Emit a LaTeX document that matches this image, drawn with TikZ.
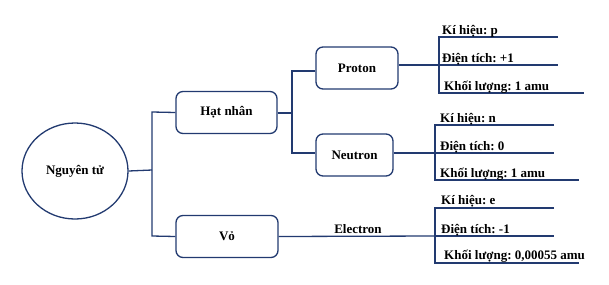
\documentclass[tikz,border=0pt]{standalone}
\usepackage{fontspec}
\setmainfont{Liberation Serif}
\usetikzlibrary{shapes.geometric}
\definecolor{navy}{RGB}{34,58,112}
\begin{document}
\frenchspacing
\begin{tikzpicture}[x=1pt,y=-1pt,
  ln/.style={draw=navy,line width=1.3pt},
  tf/.style={font=\fontsize{13}{15}\selectfont\bfseries},
  rbox/.style={tf,draw=navy,line width=1.3pt,rounded corners=7pt,minimum width=#1,minimum height=42pt,inner sep=0pt},
  lbl/.style={tf,anchor=base west,inner sep=0pt}]
\useasboundingbox (0,0) rectangle (609,284);
% root
\node[tf,draw=navy,line width=1.3pt,ellipse,minimum width=106pt,minimum height=96pt,inner sep=0pt] (root) at (75,171) {Nguyên tử};
\node[rbox=101pt] (hat) at (226.5,112.5) {Hạt nhân};
\node[rbox=102pt] (vo) at (227,236.5) {Vỏ};
\node[rbox=82pt] (pro) at (357,68) {Proton};
\node[rbox=77pt] (neu) at (354.5,155) {Neutron};
% coordinates
\coordinate (j1) at (152,170);
\coordinate (j1a) at (152,112);
\coordinate (j1b) at (152,236);
\coordinate (j2) at (292,113);
\coordinate (j2a) at (292,71);
\coordinate (j2b) at (292,153);
\draw[ln] (root.east) -- (j1);
\draw[ln] (hat.west) -- (j1a) -- (j1b) -- (vo.west);
\draw[ln] (hat.east |- j2) -- (j2);
\draw[ln] (pro.west |- j2a) -- (j2a) -- (j2b) -- (neu.west |- j2b);
% proton leaves
\coordinate (p0) at (439,37); \coordinate (p1) at (439,65); \coordinate (p2) at (439,93);
\coordinate (pe0) at (558,37); \coordinate (pe1) at (558,65); \coordinate (pe2) at (584,93);
\draw[ln] (pro.east |- p1) -- (p1);
\draw[ln] (pe0) -- (p0) -- (p2) -- (pe2);
\draw[ln] (p1) -- (pe1);
\node[lbl] (pl0) at (442,34) {Kí hiệu: p};
\node[lbl] (pl1) at (442,62) {Điện tích: +1};
\node[lbl] (pl2) at (444,90) {Khối lượng: 1 amu};
% neutron leaves
\coordinate (n0) at (435,125); \coordinate (n1) at (435,153); \coordinate (n2) at (435,180);
\coordinate (ne0) at (554,125); \coordinate (ne1) at (554,153); \coordinate (ne2) at (579,180);
\draw[ln] (neu.east |- n1) -- (n1);
\draw[ln] (ne0) -- (n0) -- (n2) -- (ne2);
\draw[ln] (n1) -- (ne1);
\node[lbl] (nl0) at (440,122) {Kí hiệu: n};
\node[lbl] (nl1) at (440,150) {Điện tích: 0};
\node[lbl] (nl2) at (440,177) {Khối lượng: 1 amu};
% electron leaves
\coordinate (e0) at (435,208); \coordinate (e1) at (435,236); \coordinate (e2) at (435,263);
\coordinate (ee0) at (554,208); \coordinate (ee1) at (554,236); \coordinate (ee2) at (579,263);
\draw[ln] (vo.east) -- (e1);
\node[tf,anchor=base,inner sep=0pt] (el) at (358,233) {Electron};
\draw[ln] (ee0) -- (e0) -- (e2) -- (ee2);
\draw[ln] (e1) -- (ee1);
\node[lbl] (el0) at (441,204) {Kí hiệu: e};
\node[lbl] (el1) at (441,233) {Điện tích: -1};
\node[lbl] (el2) at (444,259) {Khối lượng: 0,00055 amu};
\end{tikzpicture}
\end{document}
